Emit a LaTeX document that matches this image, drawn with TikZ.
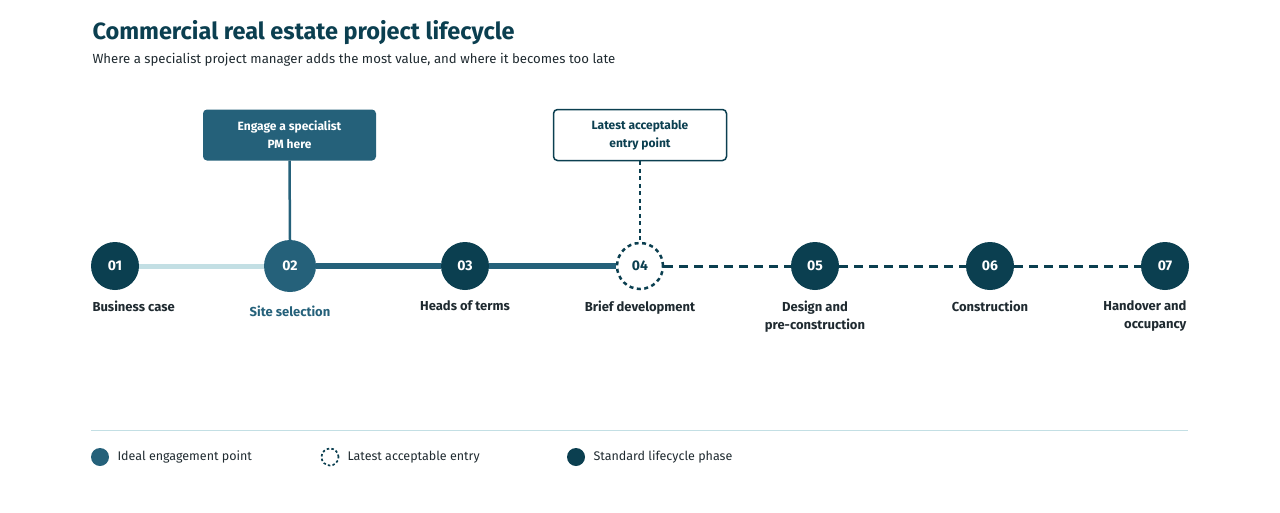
\documentclass[tikz,border=0pt]{standalone}
\usepackage{fontspec}
\setmainfont{Fira Sans}
\begin{document}
\definecolor{dk}{HTML}{0B3F50}
\definecolor{md}{HTML}{25617A}
\definecolor{lt}{HTML}{C3DFE4}
\definecolor{tx}{HTML}{1F2A30}
\begin{tikzpicture}[x=1pt,y=-1pt,
  ph/.style={circle,fill=dk,minimum size=48pt,inner sep=0pt,text=white,font=\fontsize{14}{14}\selectfont\bfseries},
  lab/.style={align=center,text=tx,font=\fontsize{13}{18}\selectfont\bfseries,anchor=north},
  leg/.style={font=\fontsize{12.5}{14}\selectfont,text=tx,anchor=west},
  bx/.style={rounded corners=4pt,minimum width=173pt,minimum height=51pt,align=center,font=\fontsize{12}{18}\selectfont\bfseries}]
\useasboundingbox (0,0) rectangle (1280,512);
\node[anchor=west,text=dk,font=\fontsize{23.5}{26}\selectfont\bfseries] (t) at (89,33) {Commercial real estate project lifecycle};
\node[anchor=west,text=tx,font=\fontsize{13.2}{15}\selectfont] (s) at (89,60) {Where a specialist project manager adds the most value, and where it becomes too late};
\node[ph] (n1) at (115,266) {01};
\node[ph,fill=md,minimum size=52pt] (n2) at (290,266) {02};
\node[ph] (n3) at (465,266) {03};
\node[ph,fill=white,draw=dk,dashed,line width=2.5pt,dash pattern=on 4pt off 3.5pt,text=dk,minimum size=46pt] (n4) at (640,266) {04};
\node[ph] (n5) at (815,266) {05};
\node[ph] (n6) at (990,266) {06};
\node[ph] (n7) at (1165,266) {07};
\draw[lt,line width=5pt] (n1) -- (n2);
\draw[md,line width=6pt] (n2) -- (n3);
\draw[md,line width=6pt] (n3) -- (n4);
\draw[dk,line width=3pt,dash pattern=on 9pt off 6pt] (n4) -- (n5);
\draw[dk,line width=3pt,dash pattern=on 9pt off 6pt] (n5) -- (n6);
\draw[dk,line width=3pt,dash pattern=on 9pt off 6pt] (n6) -- (n7);
\node[lab,anchor=north west] (l1) at (89,297) {Business case};
\node[lab,text=md] (l2) at (290,302) {Site selection};
\node[lab] (l3) at (465,297) {Heads of terms};
\node[lab] (l4) at (640,297) {Brief development};
\node[lab] (l5) at (815,297) {Design and\\pre-construction};
\node[lab,align=right,anchor=north east] (l7) at (1190,297) {Handover and\\occupancy};
\node[lab] (l6) at (990,297) {Construction};
\node[bx,fill=md,text=white] (b1) at (289.5,135) {Engage a specialist\\PM here};
\node[bx,fill=white,draw=dk,line width=1.5pt,text=dk] (b2) at (640,135) {Latest acceptable\\entry point};
\draw[md,line width=2.5pt] (b1.south) -- (n2.north);
\draw[dk,line width=2.5pt,dash pattern=on 4pt off 3.5pt] (b2.south) -- (n4.north);
\coordinate (sa) at (91,430); \coordinate (sb) at (1188,430);
\draw[lt,line width=1pt] (sa) -- (sb);
\node[circle,fill=md,minimum size=18pt,inner sep=0pt] (g1) at (100,457) {};
\node[leg] (g1t) at (114,457) {Ideal engagement point};
\node[circle,fill=white,draw=dk,line width=1.7pt,dash pattern=on 2.5pt off 2.2pt,minimum size=17pt,inner sep=0pt] (g2) at (330,457) {};
\node[leg] (g2t) at (344,457) {Latest acceptable entry};
\node[circle,fill=dk,minimum size=18pt,inner sep=0pt] (g3) at (576,457) {};
\node[leg] (g3t) at (590,457) {Standard lifecycle phase};
\end{tikzpicture}
\end{document}
